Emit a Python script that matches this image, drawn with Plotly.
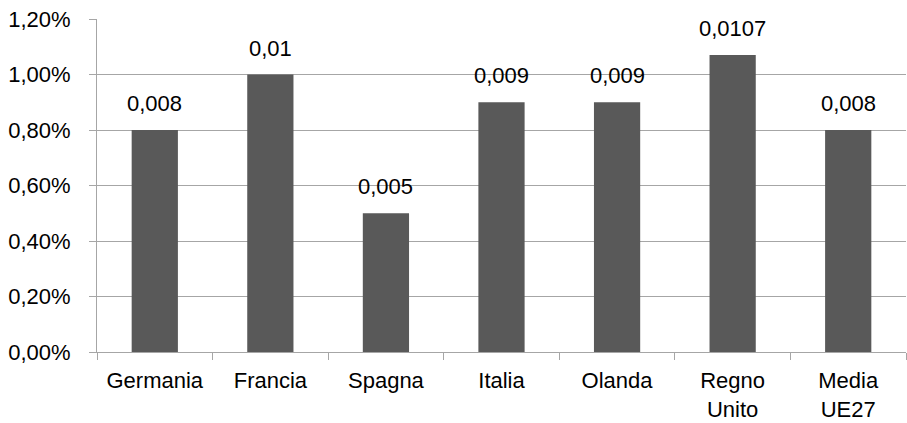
import plotly.graph_objects as go

# Categories and values (share, as fraction)
paesi = ["Germania", "Francia", "Spagna", "Italia", "Olanda", "Regno<br>Unito", "Media<br>UE27"]
valori = [0.008, 0.01, 0.005, 0.009, 0.009, 0.0107, 0.008]
tick_vals = [0.0, 0.002, 0.004, 0.006, 0.008, 0.010, 0.012]
tick_text = ["0,00%", "0,20%", "0,40%", "0,60%", "0,80%", "1,00%", "1,20%"]

etichette = [str(v).replace(".", ",") for v in valori]

FONT = "Liberation Sans, Arial, sans-serif"
GRID = "#a6a6a6"
SIZE = 22

fig = go.Figure(
    go.Bar(
        x=paesi,
        y=valori,
        marker=dict(color="#595959", line=dict(width=0)),
        cliponaxis=False,
    )
)

# value labels above each bar
for p, v, t in zip(paesi, valori, etichette):
    fig.add_annotation(
        x=p, y=v, text=t, showarrow=False,
        yanchor="bottom", yshift=12,
        font=dict(family=FONT, size=SIZE, color="#000000"),
    )

fig.update_layout(
    width=907,
    height=423,
    margin=dict(l=97, r=1, t=19, b=71),
    paper_bgcolor="white",
    plot_bgcolor="white",
    bargap=0.6,
    showlegend=False,
    font=dict(family=FONT, size=SIZE, color="#000000"),
)

fig.update_xaxes(
    type="category",
    tickson="boundaries",
    ticks="outside",
    ticklen=7,
    tickcolor=GRID,
    showline=True,
    linecolor=GRID,
    linewidth=1,
    showgrid=False,
    ticklabelstandoff=9,
    automargin=False,
)

fig.update_yaxes(
    range=[0, 0.012],
    tickvals=tick_vals,
    ticktext=tick_text,
    ticks="outside",
    ticklen=7,
    tickcolor=GRID,
    showline=True,
    linecolor=GRID,
    linewidth=1,
    showgrid=True,
    gridcolor=GRID,
    gridwidth=1,
    zeroline=False,
    ticklabelstandoff=14,
    automargin=False,
)

fig.write_html("out.html")
